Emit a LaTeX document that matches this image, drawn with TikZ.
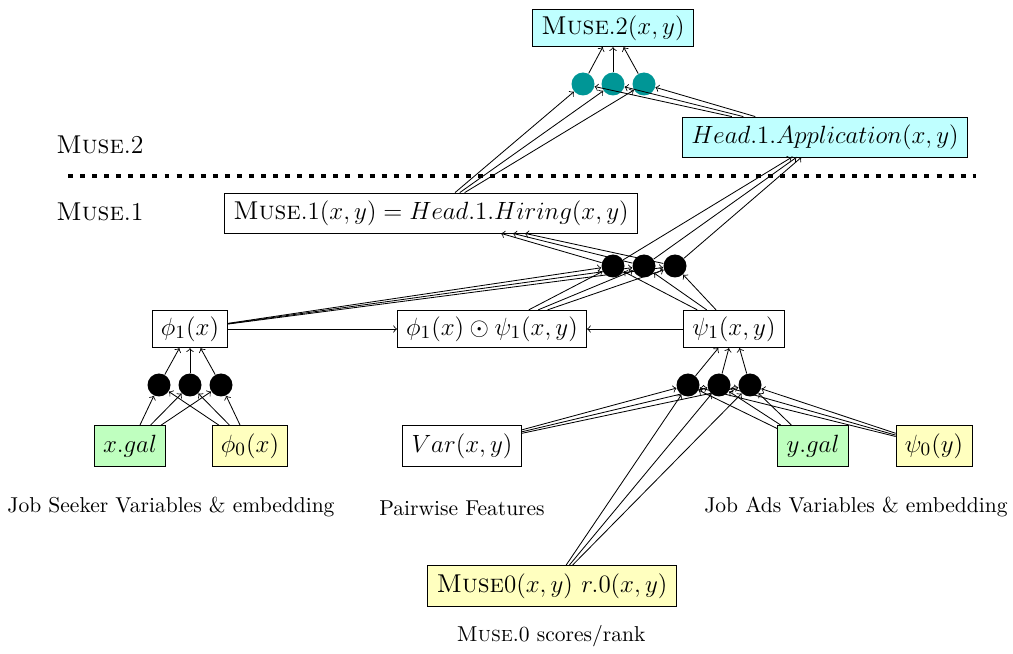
\documentclass[tikz,border=0pt]{standalone}
\usetikzlibrary{arrows}
\definecolor{tealc}{RGB}{0,150,150}
\definecolor{cyanfill}{RGB}{191,255,255}
\definecolor{greenfill}{RGB}{191,255,191}
\definecolor{yellowfill}{RGB}{255,255,191}
\begin{document}
\begin{tikzpicture}[x=0.4808pt,y=-0.4808pt,
  box/.style={draw, font=\fontsize{12.4}{15}\selectfont, inner xsep=4.2pt, inner ysep=3pt, minimum height=37*0.4808pt},
  lbox/.style={box, minimum height=41*0.4808pt},
  dot/.style={circle, fill=black, inner sep=0pt, minimum size=23*0.4808pt},
  tdot/.style={circle, fill=tealc, inner sep=0pt, minimum size=23*0.4808pt},
  lab/.style={font=\fontsize{10.35}{12.5}\selectfont},
  slab/.style={font=\fontsize{12.4}{15}\selectfont},
  arr/.style={->}]
\useasboundingbox (0,0) rectangle (1013,654);

% nodes
\node[box, fill=cyanfill] (m2) at (613,28) {$\textsc{Muse}.2(x,y)$};
\node[box, fill=cyanfill, minimum height=40*0.4808pt] (app) at (825,137) {$Head.1.Application(x,y)$};
\node[box, minimum height=40*0.4808pt] (m1) at (431,213) {$\textsc{Muse}.1(x,y) = Head.1.Hiring(x,y)$};
\node[box] (phi1) at (190,329) {$\phi_1(x)$};
\node[box] (prod) at (492,329) {$\phi_1(x) \odot \psi_1(x,y)$};
\node[box] (psi1) at (734,329) {$\psi_1(x,y)$};
\node[lbox, fill=greenfill] (xgal) at (130,446) {$x.gal$};
\node[lbox, fill=yellowfill] (phi0) at (250,446) {$\phi_0(x)$};
\node[lbox] (var) at (462,446) {$Var(x,y)$};
\node[lbox, fill=greenfill] (ygal) at (813,446) {$y.gal$};
\node[lbox, fill=yellowfill] (psi0) at (934,446) {$\psi_0(y)$};
\node[lbox, fill=yellowfill] (m0) at (552,586) {$\textsc{Muse}0(x,y)\ r.0(x,y)$};

% labels
\node[slab] (l2) at (100,145) {\textsc{Muse}.2};
\node[slab] (l1) at (100,212) {\textsc{Muse}.1};
\node[lab] (ljs) at (171,507) {Job Seeker Variables \& embedding};
\node[lab] (lpf) at (462,508) {Pairwise Features};
\node[lab] (lja) at (856,507) {Job Ads Variables \& embedding};
\node[lab] (lm0) at (551,636) {\textsc{Muse}.0 scores/rank};

% dotted separator
\coordinate (dl) at (68,176);
\coordinate (dr) at (976,176);
\draw[line width=2pt, dash pattern=on 2.4pt off 3.4pt] (dl) -- (dr);

% circles
\foreach \i/\x in {1/583,2/613,3/644} \node[tdot] (t\i) at (\x,84) {};
\foreach \i/\x in {1/613,2/644,3/675} \node[dot] (c\i) at (\x,266) {};
\foreach \i/\x in {1/159,2/190,3/221} \node[dot] (a\i) at (\x,385) {};
\foreach \i/\x in {1/688,2/719,3/750} \node[dot] (b\i) at (\x,385) {};

% connectors
\foreach \i in {1,2,3} {
  \draw[arr] (xgal) -- (a\i);
  \draw[arr] (phi0) -- (a\i);
  \draw[arr] (a\i) -- (phi1);
  \draw[arr] (var) -- (b\i);
  \draw[arr] (ygal) -- (b\i);
  \draw[arr] (psi0) -- (b\i);
  \draw[arr] (m0) -- (b\i);
  \draw[arr] (b\i) -- (psi1);
  \draw[arr] (phi1) -- (c\i);
  \draw[arr] (prod) -- (c\i);
  \draw[arr] (psi1) -- (c\i);
  \draw[arr] (c\i) -- (m1);
  \draw[arr] (c\i) -- (app);
  \draw[arr] (m1) -- (t\i);
  \draw[arr] (app) -- (t\i);
  \draw[arr] (t\i) -- (m2);
}
\draw[arr] (phi1) -- (prod);
\draw[arr] (psi1) -- (prod);
\end{tikzpicture}
\end{document}
